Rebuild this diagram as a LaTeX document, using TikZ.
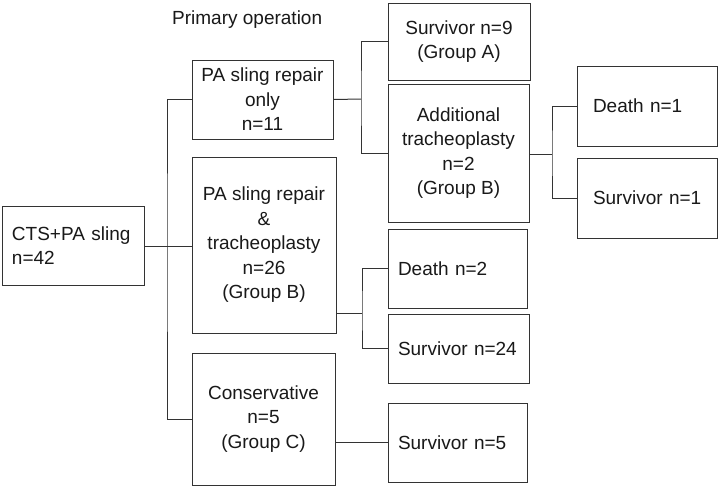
\documentclass[tikz,border=0pt]{standalone}
\usepackage{fontspec}
\setmainfont{Liberation Sans}
\begin{document}
\begin{tikzpicture}[x=1pt,y=-1pt,
  bx/.style={draw=black!80, line width=1pt, rectangle, inner sep=0pt, align=center,
    font=\fontsize{19}{24.5}\selectfont, text=black!90},
  lf/.style={bx, align=left, inner xsep=#1},
  ln/.style={draw=black!80, line width=1pt}]
\useasboundingbox (0,0) rectangle (720,491);
\fill[white] (0,0) rectangle (720,491);

\node[anchor=west, inner sep=0pt, font=\fontsize{19}{24.5}\selectfont, text=black!90] (title) at (172,20) {Primary operation};

\node[lf=10pt, text width=122pt, minimum height=79pt] (cts) at (73,245.5) {CTS+PA sling\\n=42};

\node[bx, minimum width=141pt, minimum height=79pt] (b1) at (262.5,99.5) {PA sling repair\\only\\n=11};
\node[bx, minimum width=144pt, minimum height=176pt] (b2) at (264,245) {PA sling repair\\\&\\tracheoplasty\\n=26\\(Group B)};
\node[bx, minimum width=143pt, minimum height=132pt] (b3) at (263.5,419) {Conservative\\n=5\\(Group C)};

\node[bx, minimum width=142pt, minimum height=77pt] (sa) at (459,41.5) {Survivor n=9\\(Group A)};
\node[bx, minimum width=141pt, minimum height=138pt] (add) at (458.5,153) {Additional\\tracheoplasty\\n=2\\(Group B)};

\node[lf=16pt, text width=108pt, minimum height=80pt] (d1) at (647,106) {Death~n=1};
\node[lf=16pt, text width=108pt, minimum height=80pt] (s1) at (647,198) {Survivor~n=1};

\node[lf=10pt, text width=119pt, minimum height=79pt] (d2) at (457.5,268.5) {Death~n=2};
\node[lf=10pt, text width=121pt, minimum height=69pt] (s24) at (458.5,348.5) {Survivor~n=24};
\node[lf=10pt, text width=119pt, minimum height=79pt] (s5) at (457.5,442.5) {Survivor~n=5};

\coordinate (t) at (167,246);
\coordinate (j1) at (361,99);
\coordinate (j2) at (362,313);
\coordinate (j3) at (552,154);

% trunk
\draw[ln] (cts.east |- t) -- (b2.west |- t);
\draw[ln] (b1.west) -| (t) |- (b3.west);
% PA sling repair only
\draw[ln] (b1.east) -- (j1);
\draw[ln] (sa.west) -| (j1) |- (add.west);
% additional tracheoplasty
\draw[ln] (add.east |- j3) -- (j3);
\draw[ln] (d1.west) -| (j3) |- (s1.west);
% PA sling repair & tracheoplasty
\draw[ln] (b2.east |- j2) -- (j2);
\draw[ln] (d2.west) -| (j2) |- (s24.west);
% conservative
\draw[ln] (b3.east |- s5.west) -- (s5.west);
\end{tikzpicture}
\end{document}
